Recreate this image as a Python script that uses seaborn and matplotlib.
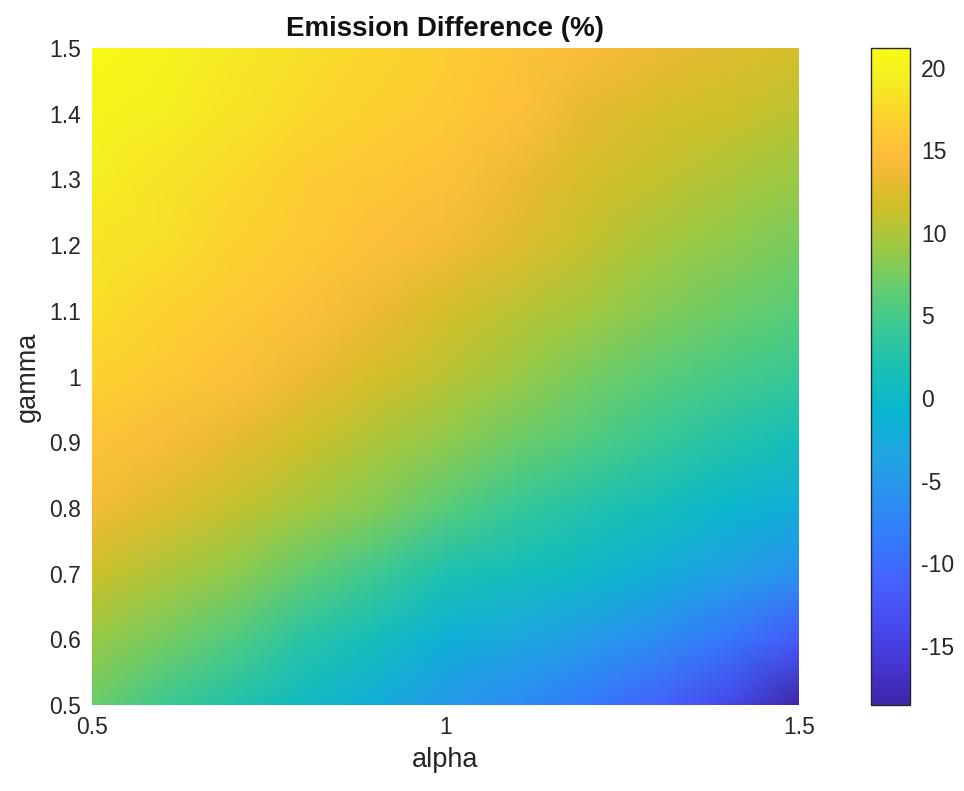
import matplotlib
matplotlib.use("Agg")
import matplotlib.pyplot as plt
from matplotlib.colors import LinearSegmentedColormap
import numpy as np
import seaborn as sns

# axes grids
alpha = [0.5, 0.6, 0.7, 0.8, 0.9, 1.0, 1.1, 1.2, 1.3, 1.4, 1.5]
gamma = [0.5, 0.6, 0.7, 0.8, 0.9, 1.0, 1.1, 1.2, 1.3, 1.4, 1.5]

# emission difference (%) per gamma row (alpha 0.5 -> 1.5)
g050 = [7.0, 4.5, 2.5, 0.5, -2.0, -5.0, -6.5, -8.5, -11.0, -14.0, -18.5]
g060 = [9.0, 7.5, 5.5, 3.0, 1.0, -1.5, -3.0, -4.5, -6.5, -9.0, -12.0]
g070 = [11.5, 10.0, 8.5, 6.5, 4.5, 2.0, 1.0, 0.0, -2.0, -4.0, -6.0]
g080 = [14.0, 12.5, 11.0, 9.5, 8.0, 6.0, 4.0, 2.5, 1.0, -0.5, -2.0]
g090 = [15.5, 14.5, 13.0, 11.5, 10.0, 8.5, 7.0, 5.5, 4.0, 2.5, 1.0]
g100 = [17.0, 16.0, 15.0, 13.5, 12.0, 10.5, 9.0, 7.5, 6.0, 5.0, 4.0]
g110 = [18.0, 17.0, 16.0, 15.0, 13.5, 12.0, 10.5, 9.5, 8.0, 7.0, 6.0]
g120 = [18.5, 18.0, 17.0, 16.0, 15.0, 14.0, 12.5, 11.0, 9.5, 8.5, 7.5]
g130 = [19.5, 18.5, 17.5, 16.5, 15.8, 15.2, 13.5, 12.0, 11.0, 10.0, 9.0]
g140 = [20.0, 19.5, 18.5, 17.5, 16.8, 16.0, 15.0, 13.0, 12.0, 11.5, 10.5]
g150 = [21.0, 20.0, 19.0, 18.0, 17.2, 16.5, 15.5, 14.5, 13.5, 12.5, 12.0]

x_ticks = [0.5, 1.0, 1.5]
x_labels = ["0.5", "1", "1.5"]
y_ticks = [0.5, 0.6, 0.7, 0.8, 0.9, 1.0, 1.1, 1.2, 1.3, 1.4, 1.5]
y_labels = ["0.5", "0.6", "0.7", "0.8", "0.9", "1", "1.1", "1.2", "1.3", "1.4", "1.5"]
cb_ticks = [-15, -10, -5, 0, 5, 10, 15, 20]

Z = np.array([g050, g060, g070, g080, g090, g100, g110, g120, g130, g140, g150])

# parula-like colormap (index in a 64-entry table, rgb)
parula_idx = [0, 4, 8, 12, 16, 20, 24, 28, 32, 36, 40, 44, 48, 51, 53, 56, 60, 63]
parula_rgb = [
    (0.2422, 0.1504, 0.6603), (0.2706, 0.2147, 0.8364), (0.2813, 0.3006, 0.9414),
    (0.2699, 0.3892, 0.9906), (0.1963, 0.4847, 0.9892), (0.1687, 0.5703, 0.9359),
    (0.1248, 0.6459, 0.8883), (0.0297, 0.7082, 0.8163), (0.0964, 0.7500, 0.7120),
    (0.2161, 0.7843, 0.5923), (0.3909, 0.8029, 0.4354), (0.6174, 0.7876, 0.2612),
    (0.8203, 0.7498, 0.1535), (0.9393, 0.7288, 0.2100), (0.9956, 0.7434, 0.2371),
    (0.9892, 0.8134, 0.1888), (0.9597, 0.9295, 0.1380), (0.9769, 0.9839, 0.0805),
]
parula = LinearSegmentedColormap.from_list(
    "parula", [(i / 63, c) for i, c in zip(parula_idx, parula_rgb)])

sns.set_theme(style="white")
plt.rcParams["font.family"] = ["Liberation Sans", "DejaVu Sans"]
plt.rcParams["axes.unicode_minus"] = False

text_col = "#262626"
tick_fs = 16.5
label_fs = 19.5

fig = plt.figure(figsize=(9.64, 7.91), dpi=100)
ax = fig.add_axes([0.0954, 0.1087, 0.7334, 0.8306])
cax = fig.add_axes([0.9040, 0.1087, 0.0399, 0.8306])

mesh = ax.pcolormesh(alpha, gamma, Z, shading="gouraud", cmap=parula,
                     vmin=-18.6, vmax=21.2, rasterized=True)
ax.set_xlim(0.5, 1.5)
ax.set_ylim(0.5, 1.5)
ax.set_xticks(x_ticks)
ax.set_xticklabels(x_labels)
ax.set_yticks(y_ticks)
ax.set_yticklabels(y_labels)
ax.tick_params(axis="both", length=0, labelsize=tick_fs, colors=text_col, pad=8)
for s in ax.spines.values():
    s.set_visible(False)
ax.set_xlabel("alpha", fontsize=label_fs, color=text_col, labelpad=6)
ax.set_ylabel("gamma", fontsize=label_fs, color=text_col, labelpad=6)
ax.set_title("Emission Difference (%)", fontsize=20, fontweight="bold",
             color="#111111", pad=9)

cb = fig.colorbar(mesh, cax=cax, ticks=cb_ticks)
cb.outline.set_edgecolor("#262626")
cb.outline.set_linewidth(1.0)
cax.tick_params(direction="in", length=6, width=1, color="#262626",
                labelsize=tick_fs, labelcolor=text_col, pad=8)

fig.savefig("out.png", dpi=100, facecolor="white")
